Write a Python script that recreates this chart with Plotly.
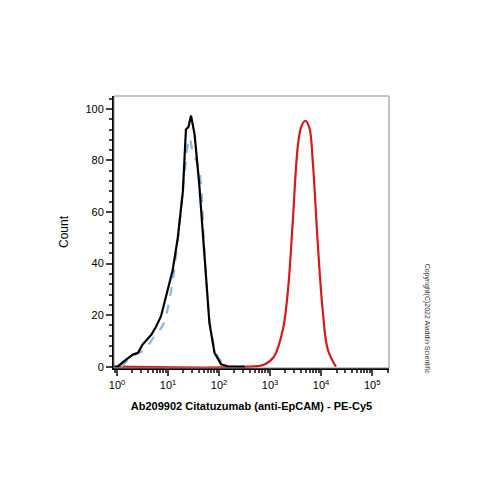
import plotly.graph_objects as go

# log10 of fluorescence intensity, and count
black_logx = [-0.06, 0.01, 0.14, 0.31, 0.41, 0.5, 0.67, 0.76, 0.86, 0.96, 1.09, 1.19, 1.29, 1.35, 1.40, 1.45, 1.52, 1.61, 1.71, 1.81, 1.91, 2.04, 2.2, 2.5]
black_y = [0, 0, 2.2, 4.7, 5.4, 8.6, 12.4, 15.4, 19.5, 27.8, 37.4, 50, 68, 92, 93, 97.4, 90, 71, 42.6, 17, 5.4, 0.9, 0, 0]

blue_logx = [0.08, 0.3, 0.54, 0.73, 0.9, 1.06, 1.19, 1.32, 1.42, 1.48, 1.61, 1.71, 1.84, 1.97, 2.14, 2.3]
blue_y = [0, 4, 6.7, 11.8, 16.3, 29.7, 49, 74.6, 88.7, 83.6, 76, 46, 14, 4, 0.5, 0]

red_logx = [0.0, 2.56, 2.89, 3.08, 3.25, 3.35, 3.44, 3.54, 3.61, 3.69, 3.77, 3.84, 3.93, 4.03, 4.13, 4.29]
red_y = [0, 0, 0.9, 4, 14.4, 29.7, 55, 85, 93, 95.4, 92.6, 78.5, 49, 22, 6.7, 0]

fig = go.Figure()
fig.add_trace(go.Scatter(x=[10**v for v in red_logx], y=red_y, mode="lines",
                         line=dict(color="#d7191c", width=2.2, shape="spline")))
fig.add_trace(go.Scatter(x=[10**v for v in blue_logx], y=blue_y, mode="lines",
                         line=dict(color="#8ab8e0", width=2.2, dash="dash", shape="spline")))
fig.add_trace(go.Scatter(x=[10**v for v in black_logx], y=black_y, mode="lines",
                         line=dict(color="black", width=2.2)))

fig.update_layout(
    width=500, height=500, showlegend=False,
    paper_bgcolor="white", plot_bgcolor="white",
    margin=dict(l=106, r=119, t=88, b=140),
    font=dict(family="Arial, Liberation Sans", color="black", size=11),
)
fig.update_xaxes(
    type="log", range=[-0.06, 5.33],
    tickvals=[1, 10, 100, 1000, 10000, 100000],
    ticktext=["10<sup>0</sup>", "10<sup>1</sup>", "10<sup>2</sup>", "10<sup>3</sup>", "10<sup>4</sup>", "10<sup>5</sup>"],
    ticks="outside", ticklen=6, tickwidth=2,
    minor=dict(ticks="outside", ticklen=3, dtick="D1"),
    showline=True, linecolor="black", linewidth=2, mirror=False,
    showgrid=False, zeroline=False,
    title=dict(text="<b>Ab209902 Citatuzumab (anti-EpCAM) - PE-Cy5</b>", font=dict(size=11), standoff=12),
)
fig.update_yaxes(
    range=[-0.5, 105], tickvals=[0, 20, 40, 60, 80, 100],
    ticks="outside", ticklen=6, tickwidth=2,
    minor=dict(ticks="outside", ticklen=3, dtick=4),
    showline=True, linecolor="black", linewidth=2,
    showgrid=False, zeroline=False,
    title=dict(text="Count", font=dict(size=12), standoff=14),
)
# thin grey frame on top/right
fig.add_shape(type="rect", xref="paper", yref="paper", x0=0, y0=0, x1=1, y1=1,
              line=dict(color="#888888", width=1))
fig.add_annotation(text="Copyright(C)2022 Aladdin Scientific", xref="paper", yref="paper",
                   x=1.16, y=-0.03, textangle=90, showarrow=False,
                   font=dict(size=7, color="#333333"))
fig.write_html("out.html")
